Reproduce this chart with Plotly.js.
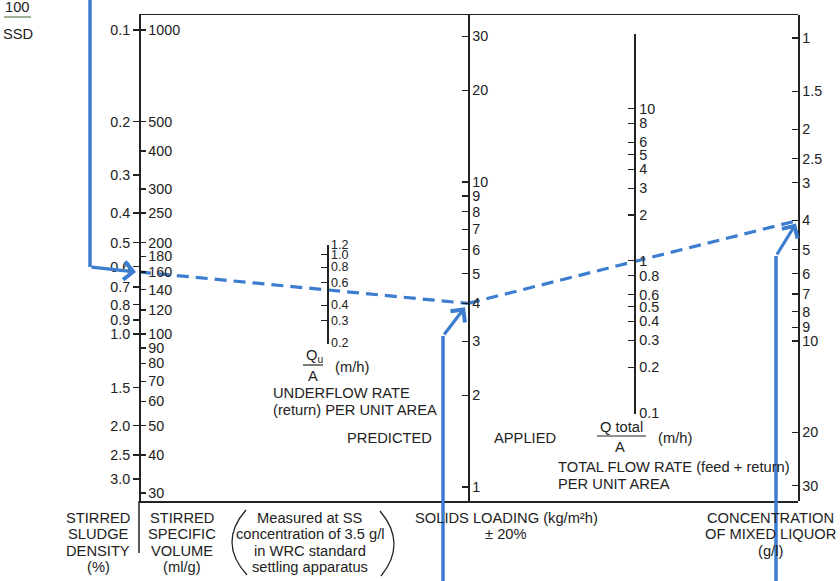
<!DOCTYPE html>
<html><head><meta charset="utf-8">
<script src="https://cdn.plot.ly/plotly-3.0.1.min.js"></script>
<style>html,body{margin:0;padding:0;background:#fff}#chart{width:840px;height:581px}</style>
</head><body><div id="chart"></div>
<script>
// ---------------- data ----------------
const ssvTicks = [1000,500,400,300,250,200,180,160,140,120,100,90,80,70,60,50,40,30];
const ssdTicks = [0.1,0.2,0.3,0.4,0.5,0.6,0.7,0.8,0.9,1.0,1.5,2.0,2.5,3.0];
const ssdLabels = ['0.1','0.2','0.3','0.4','0.5','0.6','0.7','0.8','0.9','1.0','1.5','2.0','2.5','3.0'];
const underflowTicks = [0.2,0.3,0.4,0.6,0.8,1.0,1.2];
const underflowLabels = ['0.2','0.3','0.4','0.6','0.8','1.0','1.2'];
const solidsTicks = [1,2,3,4,5,6,7,8,9,10,20,30];
const qtotalTicks = [0.1,0.2,0.3,0.4,0.5,0.6,0.8,1,2,3,4,5,6,8,10];
const qtotalLabels = ['0.1','0.2','0.3','0.4','0.5','0.6','0.8','1','2','3','4','5','6','8','10'];
const qtotalEnds = [0.1, 31];
const concTicks = [1,1.5,2,2.5,3,4,5,6,7,8,9,10,20,30];
const concLabels = ['1','1.5','2','2.5','3','4','5','6','7','8','9','10','20','30'];
// worked example drawn on the nomogram
const exampleSSV = 160, exampleSolids = 4, exampleConc = 4;

// ---------------- layout geometry ----------------
const W = 840, H = 581, L = 139, T = 15, PW = 659, PH = 486;
const fx = px => (px - L) / PW;
const fy = py => (T + PH - py) / PH;
const ink = '#222222', blue = '#3d7dd0';
const FONT = '"Liberation Sans", Arial, Helvetica, sans-serif';
const TXT = 14.7, TICK = 14.3;
const lg = Math.log10;

const scales = {
  ssv:       {pos: 0,       range: [1.4507, 3.0493],  domain: [0, 1]},
  ssd:       {pos: 0,       range: [0.5493, -1.0493], domain: [0, 1]},
  solids:    {pos: fx(468), range: [-0.0459, 1.5475], domain: [0, 1]},
  qtotal:    {pos: fx(634), range: [lg(qtotalEnds[0]) - 0.003, lg(qtotalEnds[1]) + 0.003], domain: [fy(413.5), fy(33.5)]},
  underflow: {pos: fx(327), range: [lg(underflowTicks[0]) - 0.003, lg(underflowTicks[underflowTicks.length-1]) + 0.003], domain: [fy(343.5), fy(244.5)]},
  conc:      {pos: 1,       range: [1.528, -0.0759],  domain: [0, 1]}
};
function fracY(s, v) {
  const t = (lg(v) - s.range[0]) / (s.range[1] - s.range[0]);
  return s.domain[0] + t * (s.domain[1] - s.domain[0]);
}
const toPxY = f => T + (1 - f) * PH;
const toPxX = f => L + f * PW;

function logAxis(s, opts) {
  return Object.assign({
    type: 'log', range: s.range, domain: s.domain, anchor: 'free', position: s.pos,
    autorange: false, showgrid: false, zeroline: false, showline: true,
    linecolor: ink, linewidth: 1.5, ticks: 'inside', ticklen: 6, tickwidth: 1.2,
    tickcolor: ink, tickfont: {family: FONT, size: TICK, color: ink},
    tickmode: 'array', fixedrange: true, side: 'right'
  }, opts);
}

const layout = {
  width: W, height: H, margin: {l: L, r: W - L - PW, t: T, b: H - T - PH},
  paper_bgcolor: '#ffffff', plot_bgcolor: 'rgba(0,0,0,0)', showlegend: false,
  font: {family: FONT, size: 13, color: ink},
  xaxis: {range: [0, 1], domain: [0, 1], showgrid: false, zeroline: false, showline: true,
          mirror: true, linecolor: ink, linewidth: 1.5, ticks: '', showticklabels: false,
          fixedrange: true, anchor: 'y'},
  yaxis:  logAxis(scales.ssv, {side: 'right', ticks: 'outside', ticklen: 5,
          tickvals: ssvTicks, ticktext: ssvTicks.map(String)}),
  yaxis2: logAxis(scales.ssd, {overlaying: 'y', side: 'left', ticks: 'outside', ticklen: 6,
          showline: false, tickvals: ssdTicks, ticktext: ssdLabels}),
  yaxis3: logAxis(scales.solids, {overlaying: 'y', tickvals: solidsTicks,
          ticktext: solidsTicks.map(String)}),
  yaxis4: logAxis(scales.qtotal, {tickvals: qtotalTicks.concat([qtotalEnds[1]]),
          ticktext: qtotalLabels.concat(['']), ticklabelstandoff: 1}),
  yaxis5: logAxis(scales.underflow, {tickvals: underflowTicks, ticktext: underflowLabels,
          tickfont: {family: FONT, size: 12.5, color: ink}, ticklabelstandoff: 0}),
  yaxis6: logAxis(scales.conc, {overlaying: 'y', tickvals: concTicks, ticktext: concLabels}),
  yaxis7: {overlaying: 'y', range: [0, 1], visible: false, fixedrange: true},
  shapes: [], annotations: []
};

// ---------------- traces ----------------
const traces = [];
const axisTick = (yaxis, s, vals) => ({
  type: 'scatter', mode: 'markers', x: vals.map(() => s.pos), y: vals, yaxis: yaxis,
  marker: {opacity: 0, size: 1}, hoverinfo: 'skip'
});
traces.push(axisTick('y', scales.ssv, ssvTicks));
traces.push(axisTick('y2', scales.ssd, ssdTicks));
traces.push(axisTick('y3', scales.solids, solidsTicks));
traces.push(axisTick('y4', scales.qtotal, qtotalTicks));
traces.push(axisTick('y5', scales.underflow, underflowTicks));
traces.push(axisTick('y6', scales.conc, concTicks));

const pSSV = [scales.ssv.pos, fracY(scales.ssv, exampleSSV)];
const pSol = [scales.solids.pos, fracY(scales.solids, exampleSolids)];
const pCon = [scales.conc.pos, fracY(scales.conc, exampleConc)];
const dashLine = {color: blue, width: 3.2, dash: '12px,7px'};
traces.push({type: 'scatter', mode: 'lines', x: [pSSV[0], pSol[0]], y: [pSSV[1], pSol[1]],
             yaxis: 'y7', line: dashLine, hoverinfo: 'skip'});
traces.push({type: 'scatter', mode: 'lines', x: [pSol[0], pCon[0]], y: [pSol[1], pCon[1]],
             yaxis: 'y7', line: dashLine, hoverinfo: 'skip'});

// ---------------- hand-drawn guide arrows ----------------
function guide(pts, tip) {
  let d = 'M ' + pts.map(p => fx(p[0]) + ',' + fy(p[1])).join(' L ');
  layout.shapes.push({type: 'path', xref: 'paper', yref: 'paper', path: d,
    line: {color: blue, width: 3.5}});
  const last = pts[pts.length - 1];
  const tx = toPxX(tip[0]), ty = toPxY(tip[1]);
  layout.annotations.push({xref: 'paper', yref: 'paper', x: tip[0], y: tip[1], text: '',
    showarrow: true, arrowhead: 4, arrowsize: 1.1, arrowwidth: 3.2, arrowcolor: blue,
    ax: last[0] - tx, ay: last[1] - ty, axref: 'pixel', ayref: 'pixel', standoff: 0});
}
guide([[90, -4], [90, 267]], [pSSV[0] - 3 / PW, pSSV[1]]);
guide([[443, 590], [443, 336]], [pSol[0] - 3 / PW, pSol[1] - 4 / PH]);
guide([[776, 590], [776, 256]], [pCon[0] - 2 / PW, pCon[1] - 3 / PH]);

// ---------------- text and decorations ----------------
function txt(text, px, py, opts) {
  layout.annotations.push(Object.assign({xref: 'paper', yref: 'paper', x: fx(px), y: fy(py),
    text: text, showarrow: false, xanchor: 'center', yanchor: 'middle',
    font: {family: FONT, size: TXT, color: ink}}, opts || {}));
}
function lines(arr, px, py0, step, opts) {
  arr.forEach((s, i) => txt(s, px, py0 + i * step, opts));
}
function seg(x0, y0, x1, y1, color, width) {
  layout.shapes.push({type: 'line', xref: 'paper', yref: 'paper', x0: fx(x0), y0: fy(y0),
    x1: fx(x1), y1: fy(y1), line: {color: color || ink, width: width || 1.2}});
}
txt('100', 17, 7);
seg(4, 17, 31, 17, '#6f8a5e', 1.3);
txt('SSD', 18, 34);

txt('Q<sub>u</sub>', 314, 356);
seg(303, 365, 323, 365, ink, 1.2);
txt('A', 313, 376);
txt('(m/h)', 333, 367, {xanchor: 'left'});
txt('UNDERFLOW RATE', 271, 393, {xanchor: 'left'});
txt('(return) PER UNIT AREA', 271, 410, {xanchor: 'left'});
txt('PREDICTED', 345, 438, {xanchor: 'left'});
txt('APPLIED', 492, 438, {xanchor: 'left'});

txt('Q total', 621, 427);
seg(597, 436, 646, 436, ink, 1.2);
txt('A', 620, 447);
txt('(m/h)', 656, 438, {xanchor: 'left'});
txt('TOTAL FLOW RATE (feed + return)', 556, 467, {xanchor: 'left'});
txt('PER UNIT AREA', 556, 484, {xanchor: 'left'});

lines(['STIRRED', 'SLUDGE', 'DENSITY', '(%)'], 98, 518, 16.4);
lines(['STIRRED', 'SPECIFIC', 'VOLUME', '(ml/g)'], 182, 518, 16.4);
lines(['Measured at SS', 'concentration of 3.5 g/l', 'in WRC standard', 'settling apparatus'], 310, 518, 16.4);
lines(['SOLIDS LOADING (kg/m²h)', '± 20%'], 506, 518, 16.4);
lines(['CONCENTRATION', 'OF MIXED LIQUOR', '(g/l)'], 770, 518, 16.4);

// left axis continues below the frame
seg(139, 501, 139, 553, ink, 1.5);
// large brackets around the note
function paren(xTop, yTop, xMid, xBot, yBot) {
  const cx = 2 * xMid - (xTop + xBot) / 2, cy = (yTop + yBot) / 2;
  layout.shapes.push({type: 'path', xref: 'paper', yref: 'paper',
    path: 'M ' + fx(xTop) + ',' + fy(yTop) + ' Q ' + fx(cx) + ',' + fy(cy) + ' ' + fx(xBot) + ',' + fy(yBot),
    line: {color: ink, width: 1.3}});
}
paren(246, 510, 232, 247, 575);
paren(380, 511, 394, 381, 576);

Plotly.newPlot('chart', traces, layout, {staticPlot: true, displayModeBar: false});
</script>
</body></html>
